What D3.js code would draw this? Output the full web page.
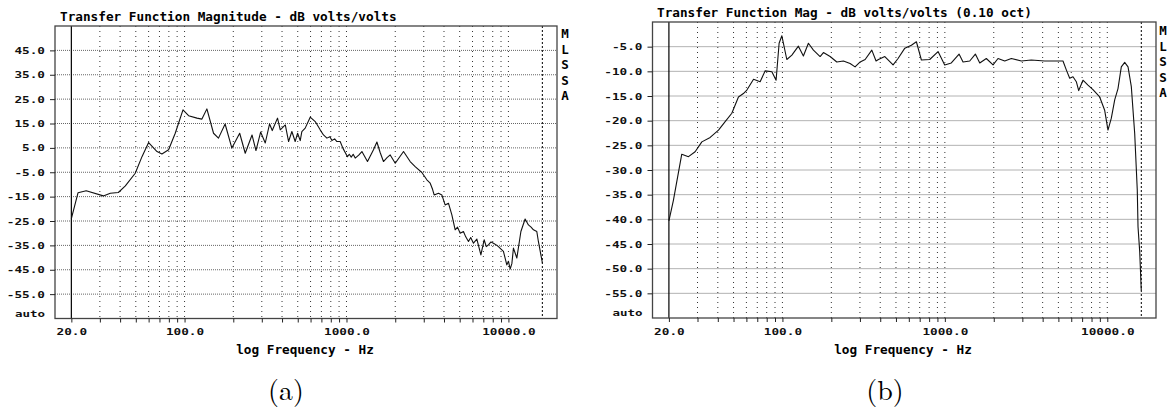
<!DOCTYPE html>
<html>
<head>
<meta charset="utf-8">
<script src="https://cdn.jsdelivr.net/npm/d3@7"></script>
<style>
  body { margin: 0; background: #fff; }
  svg { display: block; }
</style>
</head>
<body>
<script>
// (a) transfer function magnitude, unsmoothed  (Hz, dB)
const freqA = [20, 22, 24.7, 31.5, 34.8, 39, 43.1, 49.6, 54.6, 60, 67.6, 72.5, 79.7, 87.6, 97.8,
  105.9, 119.3, 128, 137.4, 151, 162, 178, 196, 219, 237, 261, 276, 295, 315, 335, 348, 375, 390,
  419, 439, 460, 482, 499, 518, 530, 556, 597, 641, 688, 721, 757, 790, 813, 845, 873, 914, 950, 1014, 1040, 1070,
  1100, 1132, 1190, 1245, 1348, 1468, 1541, 1614, 1692, 1780, 1862, 2000, 2250, 2473, 2655, 2920, 3135, 3288,
  3400, 3478, 3698, 3880, 4066, 4262, 4474, 4690, 4850, 5035, 5275, 5450, 5666, 5850, 6081, 6383, 6760, 7080, 7300, 7530, 7800, 8080,
  8400, 8675, 9000, 9314, 9775, 10000, 10250, 10500, 10740, 11270, 11940, 12680, 13290, 13800, 14270, 14970, 15310, 16220];
const dbA = [-24, -13.4, -12.6, -14.7, -13.6, -13.3, -10.6, -5.4, 1.4, 7.2, 3.5, 2.5, 4.2, 11, 20.6,
  18.2, 17.2, 16.8, 21, 11, 9, 14.8, 4.9, 11, 2.8, 10.3, 3.9, 11.5, 7, 14.8, 12.1, 17.2, 12.4,
  14.4, 7.6, 11.7, 7.6, 11, 8, 11.7, 13.1, 17.6, 15.8, 12.4, 10.3, 9, 9.6, 8, 8.7, 7.6, 7.6, 4.9, 1.4, 2.4, 1.2,
  2.4, 0.8, 2.0, 3.5, -0.6, 4.2, 7.4, 3.1, -0.6, 1.0, 2.1, -1.3, 3.5, -0.6, -2.7, -5.1, -8.1, -9.5,
  -12.0, -14.3, -13.6, -14.3, -18.4, -17.7, -22.5, -28.6, -27.5, -30, -29.3, -31.5, -33.4, -31.8, -34.1, -32.4, -38.9, -32.7, -35.5, -34.8, -33.6, -34.1,
  -34.8, -35.5, -36.5, -37.5, -43, -41.5, -44.7, -42.5, -36.1, -40.2, -29.3, -24.2, -26.6, -27.5, -28.6, -29.3, -33.4, -42.3];

// (b) same measurement, 0.10 octave smoothing  (Hz, dB)
const freqB = [20, 21.3, 24, 26.4, 29, 31.9, 35.9, 40.4, 44.4, 48.8, 53.6, 57.5, 60.4, 66.4, 72.9,
  78.3, 86.1, 91.4, 95.4, 99.2, 106.4, 114.3, 125.4, 134.6, 144.5, 155.2, 170.6, 178.8, 196.6, 216.1,
  237.4, 261, 280, 301, 323, 355, 377, 390, 427, 480, 515, 567, 622, 668, 717, 807, 908, 998, 1096,
  1223, 1294, 1423, 1541, 1640, 1800, 1980, 2125, 2337, 2566, 2956, 3406, 4120, 5337, 5594, 5870,
  6150, 6447, 6668, 7085, 7605, 8163, 8977, 9638, 10100, 10590, 11110, 11640, 12200, 12800, 13420,
  14060, 14750, 15300, 15460, 15840, 16190];
const dbB = [-40.3, -36.2, -26.8, -27.3, -26.3, -24.3, -23.4, -21.9, -20.2, -18.5, -15.2, -14.5, -13.8, -11.6, -12.1,
  -9.9, -10.1, -11.8, -4.3, -2.8, -7.6, -6.7, -4.9, -6.9, -4.3, -5.7, -7.0, -6.2, -7.0, -8.1,
  -7.9, -8.4, -9.1, -8.1, -7.6, -5.7, -7.9, -7.6, -7.0, -8.7, -7.4, -5.3, -4.7, -4.0, -7.7, -7.6, -6.0, -8.7, -8.3,
  -6.5, -8.1, -7.9, -6.5, -8.3, -7.4, -8.7, -7.4, -7.9, -7.4, -7.9, -7.7, -7.9, -7.9, -9.7, -11.4,
  -11.1, -12.1, -13.9, -11.8, -12.8, -13.7, -15.2, -17.9, -21.9, -19.5, -15.8, -13.5, -9.1, -8.2, -9.1,
  -13.1, -22.6, -34.1, -41.5, -46.6, -54.4];

const gridFreqs = [20, 30, 40, 50, 60, 70, 80, 90, 100, 200, 300, 400, 500, 600, 700, 800, 900,
  1000, 2000, 3000, 4000, 5000, 6000, 7000, 8000, 9000, 10000];
const freqLabels = [20, 100, 1000, 10000];
const dbTicksA = [45, 35, 25, 15, 5, -5, -15, -25, -35, -45, -55];
const dbTicksB = [-5, -10, -15, -20, -25, -30, -35, -40, -45, -50, -55];
const titles = ["Transfer Function Magnitude - dB volts/volts",
  "Transfer Function Mag - dB volts/volts (0.10 oct)"];
const tags = ["(a)", "(b)"];
const sideLetters = ["M", "L", "S", "S", "A"];
const xTitle = "log Frequency - Hz";
const cursorHz = 20, markerHz = 16200;

const mono = "'DejaVu Sans Mono', monospace";
const CW = 7.65;  // width of one char in the old bitmap font

const panels = [
  {left: 55, top: 26, right: 557, bottom: 318.5, yDom: [-65, 55], ticks: dbTicksA,
   freq: freqA, db: dbA, title: titles[0], titleX: 60, titleY: 20.5, sideX: 565, sideY: 38,
   tag: tags[0], tagX: 286, labelX: 305},
  {left: 652.5, top: 22, right: 1156, bottom: 318, yDom: [-60, 0], ticks: dbTicksB,
   freq: freqB, db: dbB, title: titles[1], titleX: 657, titleY: 16.5, sideX: 1163, sideY: 35,
   tag: tags[1], tagX: 885, labelX: 903}
];

const svg = d3.select("body").append("svg")
  .attr("width", 1168)
  .attr("height", 411);

function stretch(sel) {
  sel.attr("textLength", function() { return this.textContent.length * CW; })
    .attr("lengthAdjust", "spacingAndGlyphs");
}

panels.forEach(p => {
  const x = d3.scaleLog().domain([15.85, 19950]).range([p.left, p.right]);
  const y = d3.scaleLinear().domain(p.yDom).range([p.bottom, p.top]);
  const g = svg.append("g");

  // grid
  g.append("g").selectAll("line").data(p.ticks).join("line")
    .attr("x1", p.left).attr("x2", p.right)
    .attr("y1", d => y(d)).attr("y2", d => y(d))
    .attr("stroke", "#666").attr("stroke-dasharray", "1,1");
  g.append("g").selectAll("line").data(gridFreqs.filter(f => f != cursorHz)).join("line")
    .attr("x1", d => x(d)).attr("x2", d => x(d))
    .attr("y1", p.top).attr("y2", p.bottom)
    .attr("stroke", "#333").attr("stroke-dasharray", "1,4");

  // cursor + marker
  g.append("line")
    .attr("x1", x(cursorHz)).attr("x2", x(cursorHz))
    .attr("y1", p.top).attr("y2", p.bottom)
    .attr("stroke", "#000").attr("stroke-width", 1.2);
  g.append("line")
    .attr("x1", x(markerHz)).attr("x2", x(markerHz))
    .attr("y1", p.top).attr("y2", p.bottom)
    .attr("stroke", "#000").attr("stroke-dasharray", "2,2");

  // frame
  g.append("rect")
    .attr("x", p.left).attr("y", p.top)
    .attr("width", p.right - p.left).attr("height", p.bottom - p.top)
    .attr("fill", "none").attr("stroke", "#444").attr("stroke-width", 1.3);

  // axes
  const xAxis = g.append("g")
    .attr("transform", `translate(0,${p.bottom})`)
    .call(d3.axisBottom(x).tickValues(gridFreqs).tickSize(4)
      .tickFormat(d => freqLabels.includes(d) ? d.toFixed(1) : ""));
  xAxis.select(".domain").remove();
  xAxis.selectAll("line").attr("stroke", "#222");
  xAxis.selectAll("text")
    .attr("y", 16.5).attr("dy", null)
    .attr("font-family", mono).attr("font-weight", "bold").attr("font-size", 9.5)
    .attr("fill", "#111")
    .call(stretch);

  const yAxis = g.append("g")
    .attr("transform", `translate(${p.left},0)`)
    .call(d3.axisLeft(y).tickValues(p.ticks).tickSize(5).tickFormat(d => d.toFixed(1)));
  yAxis.select(".domain").remove();
  yAxis.selectAll("line").attr("stroke", "#222");
  yAxis.selectAll("text")
    .attr("x", -10).attr("dy", 3)
    .attr("font-family", mono).attr("font-weight", "bold").attr("font-size", 9.5)
    .attr("fill", "#111")
    .call(stretch);

  g.append("text")
    .attr("x", p.left - 10).attr("y", p.bottom - 2)
    .attr("text-anchor", "end")
    .attr("font-family", mono).attr("font-weight", "bold").attr("font-size", 8)
    .attr("fill", "#111")
    .text("auto")
    .attr("textLength", 30).attr("lengthAdjust", "spacingAndGlyphs");

  // curve
  const line = d3.line()
    .x(d => x(d[0]))
    .y(d => y(d[1]));
  g.append("path")
    .datum(d3.zip(p.freq, p.db))
    .attr("d", line)
    .attr("fill", "none")
    .attr("stroke", "#111")
    .attr("stroke-width", 1.1)
    .attr("stroke-linejoin", "round");

  // texts
  g.append("text")
    .attr("x", p.titleX).attr("y", p.titleY)
    .attr("font-family", mono).attr("font-weight", "bold").attr("font-size", 11.5)
    .attr("fill", "#000")
    .text(p.title)
    .call(stretch);

  g.append("g").selectAll("text").data(sideLetters).join("text")
    .attr("x", p.sideX).attr("y", (d, i) => p.sideY + i * 15.5)
    .attr("text-anchor", "middle")
    .attr("font-family", mono).attr("font-weight", "bold").attr("font-size", 12.5)
    .text(d => d);

  g.append("text")
    .attr("x", p.labelX).attr("y", 354)
    .attr("text-anchor", "middle")
    .attr("font-family", mono).attr("font-weight", "bold").attr("font-size", 11.5)
    .text(xTitle)
    .call(stretch);

  g.append("text")
    .attr("x", p.tagX).attr("y", 400)
    .attr("text-anchor", "middle")
    .attr("font-family", "'Latin Modern Roman', 'Liberation Serif', serif")
    .attr("font-size", 28)
    .text(p.tag);
});
</script>
</body>
</html>
